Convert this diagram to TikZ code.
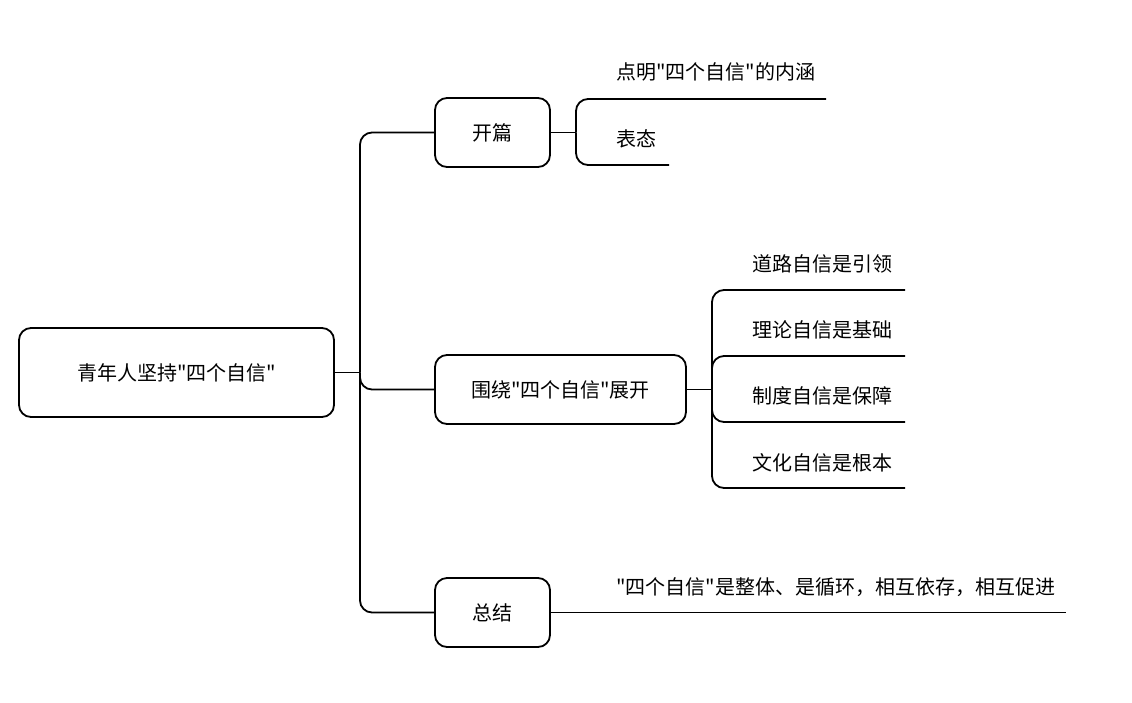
\documentclass[tikz,border=0pt]{standalone}
\usepackage{fontspec}
\setmainfont{Noto Sans CJK SC}[Ligatures=TeXOff]
\tikzset{
  box/.style={draw=black, line width=1.8pt, rounded corners=12pt, fill=white, inner sep=0pt, font=\fontsize{20pt}{23pt}\selectfont},
  conn/.style={draw=black, line width=1.8pt, rounded corners=12pt},
  leaf/.style={anchor=west, inner sep=0pt, font=\fontsize{20pt}{23pt}\selectfont}
}
\begin{document}
\begin{tikzpicture}[x=1pt,y=-1pt]
\useasboundingbox (0,0) rectangle (1132,702);
% main boxes
\node[box, minimum width=315pt, minimum height=89pt] (root) at (176.5,372.5) {青年人坚持"四个自信"};
\node[box, minimum width=115pt, minimum height=69pt] (kp) at (492.5,132.5) {开篇};
\node[box, minimum width=251pt, minimum height=69pt] (wr) at (560.5,389.5) {围绕"四个自信"展开};
\node[box, minimum width=115pt, minimum height=69pt] (zj) at (492.5,612.5) {总结};
% trunk
\coordinate (t0) at (360,372.5);
\draw[conn] (root.east) -- (t0);
\draw[conn] (t0) |- (kp.west);
\draw[conn] (t0) |- (wr.west);
\draw[conn] (t0) |- (zj.west);
% 开篇 children
\coordinate (b1) at (576,132.5);
\coordinate (e11) at (826,99);
\coordinate (e12) at (669,165);
\draw[conn] (kp.east) -- (b1);
\draw[conn] (b1) |- (e11);
\draw[conn] (b1) |- (e12);
\node[leaf] (k1) at (616,72) {点明"四个自信"的内涵};
\node[leaf] (k2) at (616,139) {表态};
% 围绕 children
\coordinate (b2) at (712,389.5);
\coordinate (e21) at (905,290);
\coordinate (e22) at (905,356);
\coordinate (e23) at (905,422);
\coordinate (e24) at (905,488);
\draw[conn] (wr.east) -- (b2);
\draw[conn] (b2) |- (e21);
\draw[conn] (b2) |- (e22);
\draw[conn] (b2) |- (e23);
\draw[conn] (b2) |- (e24);
\node[leaf] (w1) at (752,264) {道路自信是引领};
\node[leaf] (w2) at (752,330) {理论自信是基础};
\node[leaf] (w3) at (752,396) {制度自信是保障};
\node[leaf] (w4) at (752,463) {文化自信是根本};
% 总结 child
\coordinate (e31) at (1066,612.5);
\draw[conn] (zj.east) -- (e31);
\node[leaf] (z1) at (616,587) {"四个自信"是整体、是循环，相互依存，相互促进};
\end{tikzpicture}
\end{document}
